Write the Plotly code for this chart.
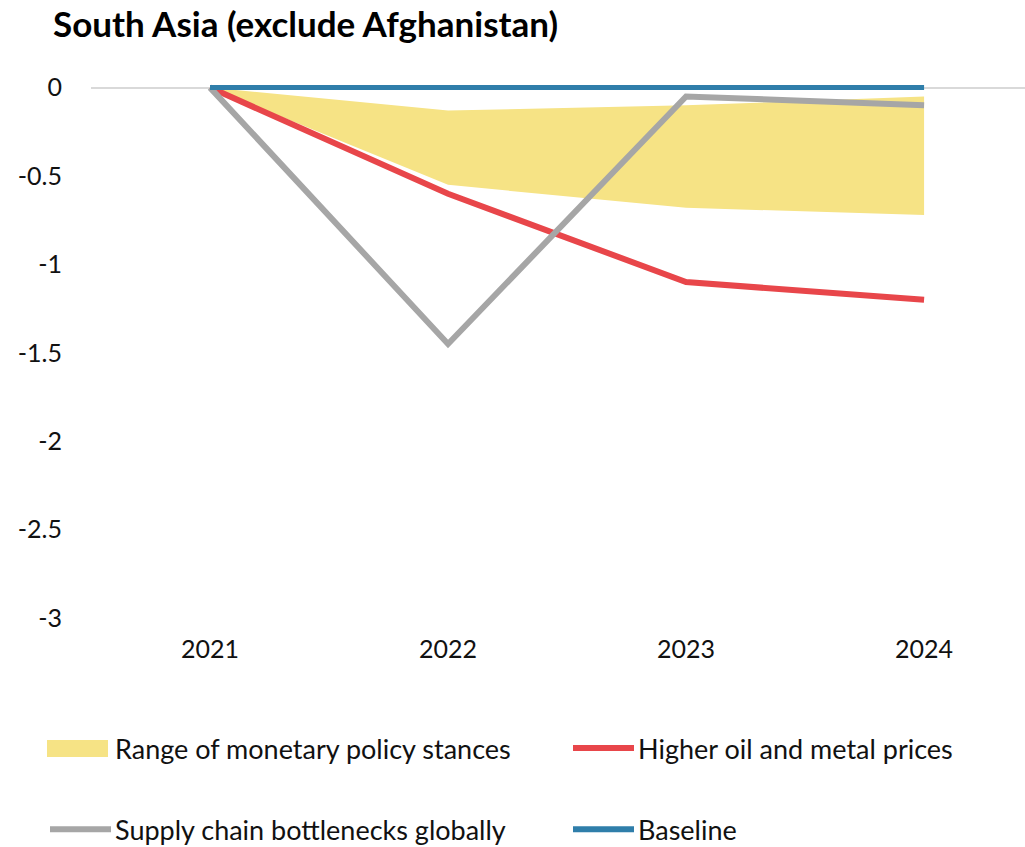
import plotly.graph_objects as go

# Data
years = ["2021", "2022", "2023", "2024"]
baseline = [0, 0, 0, 0]
oil_metal = [0, -0.6, -1.1, -1.2]
supply_chain = [0, -1.45, -0.05, -0.1]
range_upper = [0, -0.13, -0.1, -0.05]
range_lower = [0, -0.55, -0.68, -0.72]
y_ticks = [0, -0.5, -1, -1.5, -2, -2.5, -3]
y_tick_text = ["0", "-0.5", "-1", "-1.5", "-2", "-2.5", "-3"]

YELLOW = "#F6E385"
RED = "#E8464A"
GRAY = "#A6A6A6"
BLUE = "#2F7EAA"
FONT = "Lato, 'Source Sans Pro', sans-serif"

W, H = 1025, 847
ML = 91
Y0_PX, YMIN_PX = 88, 618          # pixel rows of y=0 and y=-3
PX_PER_UNIT = (YMIN_PX - Y0_PX) / 3
Y_TOP = 0.06                      # headroom so the zero-level line isn't clipped
MT = Y0_PX - Y_TOP * PX_PER_UNIT
PLOT_W = W - ML
PLOT_H = YMIN_PX - MT

fig = go.Figure()

# Shaded range of policy stances
fig.add_trace(go.Scatter(x=years, y=range_upper, mode="lines",
                         line=dict(width=0, color=YELLOW), showlegend=False, hoverinfo="skip"))
fig.add_trace(go.Scatter(x=years, y=range_lower, mode="lines", fill="tonexty",
                         fillcolor=YELLOW, line=dict(width=0, color=YELLOW),
                         name="Range of monetary policy stances", showlegend=False))
fig.add_trace(go.Scatter(x=years, y=oil_metal, mode="lines",
                         line=dict(color=RED, width=6), name="Higher oil and metal prices",
                         showlegend=False))
fig.add_trace(go.Scatter(x=years, y=supply_chain, mode="lines",
                         line=dict(color=GRAY, width=6), name="Supply chain bottlenecks globally",
                         showlegend=False))
fig.add_trace(go.Scatter(x=years, y=baseline, mode="lines",
                         line=dict(color=BLUE, width=5), name="Baseline",
                         showlegend=False))


def px_x(px):
    return (px - ML) / PLOT_W


def px_y(py):
    return (YMIN_PX - py) / PLOT_H


# Legend drawn as shapes + labels in two rows
legend_items = [
    ("Range of monetary policy stances", "box", YELLOW, 47, 748),
    ("Higher oil and metal prices", "line", RED, 570, 748),
    ("Supply chain bottlenecks globally", "line", GRAY, 47, 829),
    ("Baseline", "line", BLUE, 570, 829),
]
shapes = []
annotations = []
for label, kind, color, x0, yc in legend_items:
    if kind == "box":
        shapes.append(dict(type="rect", xref="paper", yref="paper",
                           x0=px_x(x0), x1=px_x(x0 + 61), y0=px_y(yc + 9), y1=px_y(yc - 8),
                           fillcolor=color, line=dict(width=0)))
    else:
        shapes.append(dict(type="line", xref="paper", yref="paper",
                           x0=px_x(x0 + 3), x1=px_x(x0 + 64), y0=px_y(yc), y1=px_y(yc),
                           line=dict(color=color, width=6)))
    annotations.append(dict(text=label, xref="paper", yref="paper",
                            x=px_x(x0 + 66), y=px_y(yc), xanchor="left", yanchor="middle",
                            showarrow=False, font=dict(family=FONT, size=27, color="#111")))

fig.update_layout(
    width=W, height=H,
    margin=dict(l=ML, r=0, t=MT, b=H - YMIN_PX),
    plot_bgcolor="white", paper_bgcolor="white",
    title=dict(text="<b>South Asia (exclude Afghanistan)</b>", x=53 / W, xanchor="left",
               y=1 - 25 / H, yanchor="middle",
               font=dict(family=FONT, size=35, color="#000")),
    xaxis=dict(type="category", range=[-0.5, 3.424], showgrid=False, zeroline=False,
               showline=False, ticks="", tickfont=dict(family=FONT, size=25, color="#111"),
               ticklabelstandoff=14),
    yaxis=dict(range=[-3, Y_TOP], tickvals=y_ticks, ticktext=y_tick_text, showgrid=False,
               zeroline=True, zerolinecolor="#D9D9D9", zerolinewidth=2, showline=False,
               ticks="", tickfont=dict(family=FONT, size=25, color="#111"),
               ticklabelstandoff=28),
    shapes=shapes,
    annotations=annotations,
    showlegend=False,
)

fig.write_html("out.html")
